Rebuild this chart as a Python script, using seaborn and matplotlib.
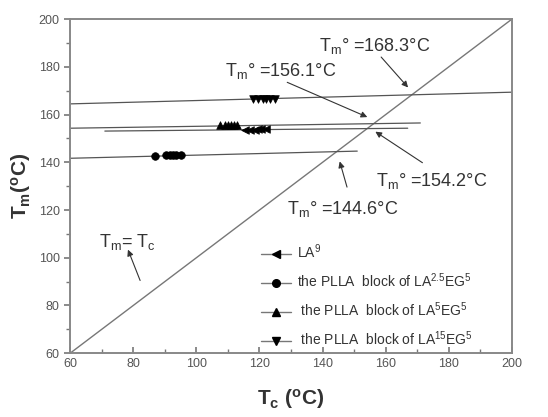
import numpy as np
import pandas as pd
import matplotlib
matplotlib.use("Agg")
import matplotlib.pyplot as plt
import seaborn as sns
from matplotlib.lines import Line2D
from matplotlib.ticker import MultipleLocator

# measured points (Tc, Tm)
la9_tc = [115.5, 117, 118.5, 119.5, 120.5, 122]
la9_tm = [153.6, 153.7, 153.7, 153.8, 153.8, 153.9]
la25_tc = [87, 90.5, 91.5, 92.5, 93.5, 95]
la25_tm = [142.8, 142.9, 142.9, 143.0, 143.0, 143.0]
la5_tc = [107.5, 109, 110, 111, 112, 113]
la5_tm = [155.5, 155.6, 155.6, 155.7, 155.7, 155.8]
la15_tc = [118, 119.5, 121, 122, 123.5, 125]
la15_tm = [166.4, 166.4, 166.5, 166.5, 166.5, 166.6]

# Hoffman-Weeks extrapolation lines (start/end)
fit_names = ["LA9", "LA2.5", "LA5", "LA15"]
fit_x0 = [71, 60, 60, 60]
fit_x1 = [167, 151, 171, 200]
fit_y0 = [153.1, 141.7, 154.3, 164.5]
fit_y1 = [154.3, 144.7, 156.5, 169.4]

diag = [60, 200]

labels = ["LA$^{9}$",
          "the PLLA  block of LA$^{2.5}$EG$^{5}$",
          " the PLLA  block of LA$^{5}$EG$^{5}$",
          " the PLLA  block of LA$^{15}$EG$^{5}$"]
markers = ["<", "o", "^", "v"]

sns.set_style("white")
plt.rcParams['font.family'] = ['Liberation Sans', 'DejaVu Sans']
plt.rcParams['mathtext.default'] = 'regular'

fig = plt.figure(figsize=(5.48, 4.17), dpi=100)
ax = fig.add_axes([0.128, 0.153, 0.806, 0.801])

sns.lineplot(x=diag, y=diag, ax=ax, color="#777777", lw=1.0)

for i in range(4):
    sns.lineplot(x=[fit_x0[i], fit_x1[i]], y=[fit_y0[i], fit_y1[i]], ax=ax,
                 color="#555555", lw=0.9)

pts = [(la9_tc, la9_tm), (la25_tc, la25_tm), (la5_tc, la5_tm), (la15_tc, la15_tm)]
for (xs, ys), m in zip(pts, markers):
    sns.scatterplot(x=xs, y=ys, ax=ax, marker=m, color="black", s=30,
                    edgecolor="black", linewidth=0.5, zorder=5)

ax.set_xlim(60, 200)
ax.set_ylim(60, 200)
ax.xaxis.set_major_locator(MultipleLocator(20))
ax.xaxis.set_minor_locator(MultipleLocator(10))
ax.yaxis.set_major_locator(MultipleLocator(20))
ax.yaxis.set_minor_locator(MultipleLocator(10))
ax.tick_params(axis="x", which="both", direction="in", colors="#777777",
               labelcolor="#555555", labelsize=9)
ax.tick_params(axis="y", which="both", direction="out", colors="#777777",
               labelcolor="#555555", labelsize=9)
ax.tick_params(which="major", length=4, width=1.2)
ax.tick_params(which="minor", length=3, width=1.0)
ax.tick_params(axis="both", which="both", bottom=True, left=True)
for s in ax.spines.values():
    s.set_color("#888888")
    s.set_linewidth(1.4)

ax.set_xlabel("T$_c$ ($^o$C)", fontsize=15, fontweight="bold", color="#333333", labelpad=12)
ax.set_ylabel("T$_m$($^o$C)", fontsize=15, fontweight="bold", color="#333333", labelpad=4)

arrow = dict(arrowstyle="-|>", color="#333333", lw=0.8, mutation_scale=9)
tsize = 13
tc = "#333333"
ax.text(139, 188.7, "T$_m$° =168.3°C", fontsize=tsize, color=tc, va="center")
ax.annotate("", xy=(167.7, 170.5), xytext=(158, 185), arrowprops=arrow)
ax.text(109, 178.2, "T$_m$° =156.1°C", fontsize=tsize, color=tc, va="center")
ax.annotate("", xy=(155, 158.5), xytext=(128, 174), arrowprops=arrow)
ax.text(157, 132, "T$_m$° =154.2°C", fontsize=tsize, color=tc, va="center")
ax.annotate("", xy=(156, 153.5), xytext=(172.4, 139.2), arrowprops=arrow)
ax.text(128.7, 120.4, "T$_m$° =144.6°C", fontsize=tsize, color=tc, va="center")
ax.annotate("", xy=(145.2, 141.5), xytext=(148, 128.5), arrowprops=arrow)
ax.text(69, 106.5, "T$_m$= T$_c$", fontsize=tsize, color=tc, va="center")
ax.annotate("", xy=(78, 104.5), xytext=(82.5, 89.4), arrowprops=arrow)

handles = [Line2D([0], [0], color="#777777", lw=1.0, marker=m, markersize=5.5,
                  markerfacecolor="black", markeredgecolor="black") for m in markers]
leg = ax.legend(handles, labels, loc="upper left", bbox_to_anchor=(0.403, 0.368),
                frameon=False, fontsize=10, handlelength=2.2, labelspacing=0.75,
                handletextpad=0.4)
for t in leg.get_texts():
    t.set_color("#333333")

fig.savefig("out.png", dpi=100)
